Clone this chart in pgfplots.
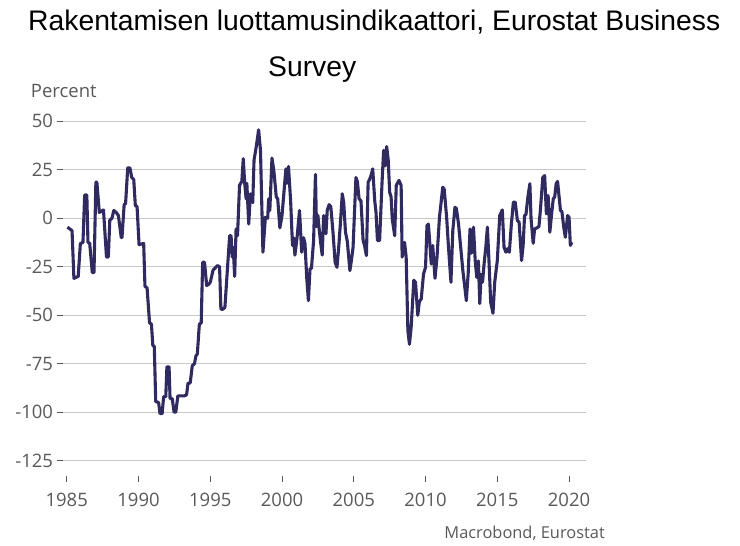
\documentclass[border=0pt]{standalone}
\usepackage{pgfplots}
\pgfplotsset{compat=1.18}
\usepackage{fontspec}
\setmainfont{Open Sans}
\newfontfamily\titlefont{Liberation Sans}

\definecolor{seriescol}{RGB}{47,42,95}
\definecolor{gridcol}{RGB}{200,200,200}
\definecolor{labelcol}{RGB}{89,89,89}

\begin{document}
\begin{tikzpicture}[x=1bp,y=1bp]
  \path[use as bounding box] (0,0) rectangle (740,546);

  \begin{axis}[
      at={(63bp,70bp)}, anchor=south west,
      scale only axis,
      width=522.7bp, height=354.7bp,
      xmin=1984.74, xmax=2021.16,
      ymin=-132.9, ymax=50,
      axis line style={draw=none},
      xtick={1985,1990,...,2020},
      xticklabels={1985,1990,1995,2000,2005,2010,2015,2020},
      ytick={-125,-100,...,50},
      yticklabels={{-125},{-100},{-75},{-50},{-25},{0},{25},{50}},
      xtick pos=bottom, ytick pos=left,
      tick align=outside,
      major tick length=6.5bp,
      tick style={draw=labelcol, line width=0.8bp},
      ymajorgrids=true,
      grid style={draw=gridcol, line width=0.8bp},
      ticklabel style={font=\fontsize{18.5bp}{20bp}\selectfont, text=labelcol},
      xticklabel style={yshift=-7bp},
      clip=false,
    ]

    \addplot[seriescol, line width=3.1bp, line join=round] coordinates {
      (1985.05,-4.6) (1985.37,-6.4) (1985.5,-31) (1985.8,-30) (1985.95,-13)
      (1986.13,-12.5) (1986.25,12) (1986.4,12) (1986.48,-12.4) (1986.6,-13)
      (1986.78,-28) (1986.9,-28) (1987.03,18.6) (1987.1,18.6) (1987.27,3)
      (1987.56,4.3) (1987.77,-20) (1987.9,-20) (1988.0,-1) (1988.15,0)
      (1988.28,4) (1988.45,3) (1988.6,1.4) (1988.8,-10) (1988.85,-10)
      (1989.0,7) (1989.1,7.5) (1989.25,26) (1989.4,26) (1989.53,21)
      (1989.67,20) (1989.78,6.5) (1989.9,6) (1990.04,-13.6) (1990.36,-13)
      (1990.45,-35) (1990.6,-36) (1990.77,-54) (1990.9,-54.5) (1991.0,-65.7)
      (1991.1,-66) (1991.2,-94.5) (1991.4,-95) (1991.5,-100.7) (1991.65,-100.7)
      (1991.75,-92) (1991.9,-92) (1991.98,-76.6) (1992.13,-76.6) (1992.2,-93)
      (1992.35,-93) (1992.48,-100) (1992.6,-100) (1992.74,-91.6) (1993.2,-91.6)
      (1993.35,-91) (1993.45,-85) (1993.6,-85) (1993.75,-76) (1993.9,-75)
      (1994.0,-71) (1994.1,-70) (1994.24,-54.6) (1994.37,-54) (1994.47,-22.7)
      (1994.6,-22.7) (1994.75,-34.7) (1994.9,-34) (1995.0,-33) (1995.2,-26.7)
      (1995.5,-24.4) (1995.65,-25) (1995.74,-46.8) (1995.85,-47) (1996.02,-46)
      (1996.35,-9) (1996.45,-9) (1996.53,-20) (1996.6,-15) (1996.7,-30)
      (1996.8,-5.5) (1996.9,-9) (1997.04,17) (1997.2,19) (1997.3,30.7)
      (1997.4,18) (1997.5,10) (1997.55,18) (1997.68,-3) (1997.8,12.6)
      (1997.96,8) (1998.05,30) (1998.2,36.7) (1998.37,45.6) (1998.5,35)
      (1998.67,-17.5) (1998.84,0.5) (1999.0,0) (1999.07,10) (1999.15,4)
      (1999.3,31) (1999.43,24.6) (1999.6,11) (1999.7,10) (1999.85,-5)
      (2000.0,1.4) (2000.27,25.5) (2000.35,18) (2000.45,26.7) (2000.6,9)
      (2000.73,-14) (2000.8,-10) (2000.9,-19) (2001.05,-9.8) (2001.22,4)
      (2001.37,-17.5) (2001.5,-10) (2001.6,-13) (2001.72,-30.5) (2001.84,-42.5)
      (2001.95,-26) (2002.05,-26) (2002.2,-11.5) (2002.33,22.6) (2002.4,-4.3)
      (2002.5,1.5) (2002.58,-5) (2002.7,-13) (2002.8,-19) (2002.9,1.4)
      (2003.06,-8) (2003.15,4) (2003.28,7) (2003.4,6) (2003.55,-7)
      (2003.7,-22.7) (2003.83,-25.3) (2003.95,-15) (2004.05,-4.6) (2004.2,12.6)
      (2004.3,8) (2004.42,-7) (2004.55,-12) (2004.73,-27) (2004.85,-21)
      (2004.95,-15) (2005.15,21) (2005.25,19) (2005.37,10) (2005.5,9)
      (2005.65,-11.5) (2005.75,-14) (2005.88,-19.3) (2006.0,18.6) (2006.1,20)
      (2006.2,22) (2006.32,25.5) (2006.46,9) (2006.55,3) (2006.65,-11.5)
      (2006.8,-11.5) (2006.97,18.6) (2007.08,35) (2007.18,27) (2007.29,37)
      (2007.4,30) (2007.5,13.4) (2007.6,11) (2007.68,-0.3) (2007.85,-9)
      (2007.96,17) (2008.15,19.5) (2008.3,17) (2008.37,-20) (2008.54,-12.4)
      (2008.65,-20) (2008.77,-58) (2008.88,-65) (2009.0,-56) (2009.18,-32)
      (2009.3,-33) (2009.46,-50) (2009.57,-43) (2009.7,-41.6) (2009.86,-28.7)
      (2010.0,-25.3) (2010.1,-3.8) (2010.2,-3) (2010.4,-23.6) (2010.5,-14)
      (2010.66,-31) (2010.8,-20) (2010.97,0.5) (2011.2,16) (2011.3,15)
      (2011.47,0.5) (2011.6,-15) (2011.77,-33) (2011.9,-6.4) (2012.05,5.7)
      (2012.15,5) (2012.3,-3) (2012.45,-15) (2012.6,-27) (2012.75,-36.5)
      (2012.84,-42.5) (2012.97,-28.7) (2013.1,-5.5) (2013.2,-18) (2013.34,-4.6)
      (2013.46,-21.8) (2013.57,-30.5) (2013.68,-22) (2013.78,-44) (2013.87,-29)
      (2013.97,-33) (2014.09,-22.7) (2014.2,-15) (2014.31,-4.6) (2014.42,-22)
      (2014.54,-43.4) (2014.7,-49) (2014.82,-33) (2015.0,-21.8) (2015.17,1.4)
      (2015.35,4.3) (2015.47,-15) (2015.6,-17.5) (2015.7,-15.7) (2015.84,-17.5)
      (2015.98,-3) (2016.12,8.3) (2016.25,8.3) (2016.4,-1.2) (2016.52,-2)
      (2016.69,-21.8) (2016.8,-14) (2016.9,1.4) (2017.0,2) (2017.13,10.9)
      (2017.27,17.8) (2017.35,0) (2017.5,-12.9) (2017.6,-5.5) (2017.75,-5)
      (2017.9,-4.3) (2018.0,4) (2018.17,21) (2018.3,22) (2018.42,2.3)
      (2018.54,11.7) (2018.66,-7.2) (2018.78,2) (2018.9,10) (2019.0,11)
      (2019.1,17.8) (2019.2,19) (2019.4,4) (2019.5,3.5) (2019.63,-4.6)
      (2019.74,-9.8) (2019.9,1.4) (2020.0,0.5) (2020.09,-14) (2020.2,-12.4)
    };
  \end{axis}

  \node[anchor=base west, inner sep=0pt, font=\titlefont\fontsize{28.3bp}{30bp}\selectfont]
    at (28,515) {Rakentamisen luottamusindikaattori, Eurostat Business};
  \node[anchor=base west, inner sep=0pt, font=\titlefont\fontsize{28.3bp}{30bp}\selectfont]
    at (268,469) {Survey};
  \node[anchor=base west, inner sep=0pt, text=labelcol, font=\fontsize{18.5bp}{20bp}\selectfont]
    at (30.7,448.7) {Percent};
  \node[anchor=base east, inner sep=0pt, text=labelcol, font=\fontsize{16.4bp}{18bp}\selectfont]
    at (605,7) {Macrobond, Eurostat};
\end{tikzpicture}
\end{document}
